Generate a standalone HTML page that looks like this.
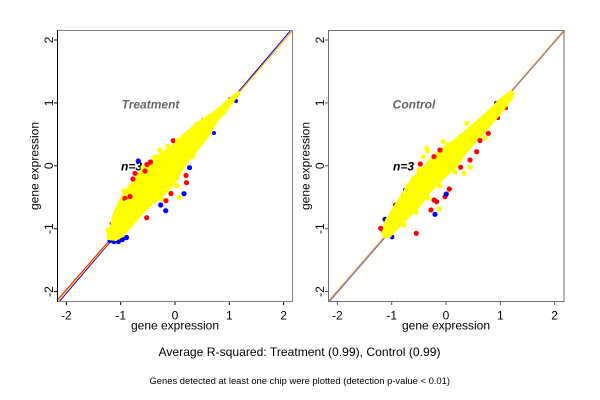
<!DOCTYPE html>
<html><head><meta charset="utf-8"><style>
html,body{margin:0;padding:0;background:#fff;}
svg{display:block;}
text{font-family:"Liberation Sans",Arial,sans-serif;}
</style></head><body>
<svg width="600" height="400" viewBox="0 0 600 400" xmlns="http://www.w3.org/2000/svg">
<defs>
<clipPath id="cl"><rect x="57.5" y="30.5" width="235" height="271"/></clipPath>
<clipPath id="cr"><rect x="328.5" y="30.5" width="235.5" height="271"/></clipPath>
<clipPath id="cb"><rect x="0" y="0" width="600" height="332"/></clipPath>
</defs>
<rect width="600" height="400" fill="#fff"/>

<!-- ============ LEFT PANEL ============ -->
<g clip-path="url(#cl)">
  <text x="150.5" y="108.3" font-size="12" font-weight="bold" font-style="italic" fill="#666" text-anchor="middle">Treatment</text>
  <text x="131.5" y="170.3" font-size="12" font-weight="bold" font-style="italic" fill="#000" text-anchor="middle">n=3</text>
  <line x1="58.5" y1="302.5" x2="291.5" y2="29.5" stroke="#0000ff" stroke-width="1"/>
  <line x1="56.5" y1="301" x2="292.5" y2="31" stroke="#ff0000" stroke-width="1"/>
  <line x1="57.5" y1="301.5" x2="293" y2="30.5" stroke="#ffd000" stroke-width="1"/>
  <!-- edge fringe -->
  <g fill="#0000ff">
    <circle cx="110" cy="240.5" r="2.6"/><circle cx="114" cy="241.5" r="2.6"/><circle cx="118.5" cy="241.5" r="2.6"/>
    <circle cx="122.5" cy="239.5" r="2.6"/><circle cx="126.5" cy="237.5" r="2.6"/><circle cx="214" cy="133" r="2"/>
    <circle cx="236" cy="101" r="2"/>
  </g>
  <g fill="#ff0000">
    <circle cx="117.5" cy="215" r="2.6"/><circle cx="112" cy="224" r="2.4"/><circle cx="151" cy="163" r="2.4"/>
    <circle cx="230" cy="99" r="2"/><circle cx="203" cy="120" r="2"/>
  </g>
  <path fill="#ffff00" d="M238,91 L229,98 L214,111 L200,120 L190,128 L181,136 L172,145 L160,153 L147,163 L138,173 L128,186 L119,200 L113,213 L110,226 L106,236 L108,240 L116,241 L123,237 L132,227 L143,214 L156,202 L167,193 L178,180 L183,170 L190,160 L201,147 L211,134 L218,121 L226,113 L232,104 L239,96 L241,92 Z"/>
  <g fill="#ffff00">
    <circle cx="210" cy="116.5" r="2.6"/><circle cx="196" cy="125" r="2.6"/><circle cx="178" cy="141" r="2.6"/>
    <circle cx="168" cy="146" r="2.6"/><circle cx="160" cy="150" r="2.6"/><circle cx="143" cy="168" r="2.6"/>
    <circle cx="137" cy="176" r="2.6"/><circle cx="127" cy="201" r="2.6"/><circle cx="124" cy="191" r="2.6"/>
    <circle cx="193" cy="156" r="2.6"/><circle cx="177" cy="186" r="2.6"/><circle cx="162" cy="199" r="2.6"/>
    <circle cx="108" cy="230" r="2.6"/><circle cx="155" cy="157" r="2.6"/>
  </g>
  <g fill="#ff0000">
    <circle cx="173.3" cy="140.7" r="2.6"/><circle cx="150.5" cy="162" r="2.6"/><circle cx="147" cy="164.5" r="2.6"/>
    <circle cx="145" cy="171" r="2.6"/><circle cx="135" cy="173.3" r="2.6"/><circle cx="133" cy="179" r="2.6"/>
    <circle cx="186" cy="175.5" r="2.6"/><circle cx="186.5" cy="182.7" r="2.6"/><circle cx="171" cy="193.5" r="2.6"/>
    <circle cx="166" cy="200.7" r="2.6"/><circle cx="146.7" cy="217.7" r="2.6"/><circle cx="125" cy="198.5" r="2.6"/>
    <circle cx="130" cy="196.5" r="2.6"/>
  </g>
  <g fill="#0000ff">
    <circle cx="138.3" cy="161" r="2.6"/><circle cx="189.5" cy="167.7" r="2.6"/><circle cx="184" cy="193.7" r="2.6"/>
    <circle cx="160.7" cy="205" r="2.6"/><circle cx="165.7" cy="210.7" r="2.6"/>
  </g>
  <g fill="#ffff00">
    <circle cx="177.5" cy="140.7" r="2.6"/><circle cx="179.3" cy="197.3" r="2.6"/><circle cx="127" cy="202" r="2.6"/>
  </g>
</g>
<rect x="57.5" y="30.5" width="235" height="271" fill="none" stroke="#808080" stroke-width="1"/>
<line x1="57.5" y1="30" x2="57.5" y2="302" stroke="#000" stroke-width="1"/>
<!-- left ticks -->
<g stroke="#000" stroke-width="1">
  <line x1="66.4" y1="302" x2="66.4" y2="305"/><line x1="120.7" y1="302" x2="120.7" y2="305"/>
  <line x1="175" y1="302" x2="175" y2="305"/><line x1="229.3" y1="302" x2="229.3" y2="305"/>
  <line x1="283.6" y1="302" x2="283.6" y2="305"/>
  <line x1="54" y1="40" x2="57" y2="40"/><line x1="54" y1="102.9" x2="57" y2="102.9"/>
  <line x1="54" y1="165.8" x2="57" y2="165.8"/><line x1="54" y1="228.7" x2="57" y2="228.7"/>
  <line x1="54" y1="291.6" x2="57" y2="291.6"/>
</g>
<g font-size="12" fill="#000" text-anchor="middle">
  <text x="66.4" y="319.3">-2</text><text x="120.7" y="319.3">-1</text><text x="175" y="319.3">0</text>
  <text x="229.3" y="319.3">1</text><text x="283.6" y="319.3">2</text>
  <text transform="translate(52.8,40) rotate(-90)">2</text>
  <text transform="translate(52.8,102.9) rotate(-90)">1</text>
  <text transform="translate(52.8,165.8) rotate(-90)">0</text>
  <text transform="translate(52.8,228.7) rotate(-90)">-1</text>
  <text transform="translate(52.8,291.6) rotate(-90)">-2</text>
  <text transform="translate(38.5,166) rotate(-90)">gene expression</text>
  <text x="175" y="329.5" clip-path="url(#cb)">gene expression</text>
</g>

<!-- ============ RIGHT PANEL ============ -->
<g clip-path="url(#cr)">
  <text x="414" y="108.3" font-size="12" font-weight="bold" font-style="italic" fill="#666" text-anchor="middle">Control</text>
  <text x="403.5" y="170.3" font-size="12" font-weight="bold" font-style="italic" fill="#000" text-anchor="middle">n=3</text>
  <line x1="328.5" y1="302.5" x2="564.5" y2="30.5" stroke="#5050ff" stroke-width="1"/>
  <line x1="328" y1="301.5" x2="564.5" y2="29.5" stroke="#ffa500" stroke-width="1"/>
  <g fill="#0000ff">
    <circle cx="385" cy="219.3" r="2.6"/><circle cx="383.3" cy="231.7" r="2.6"/><circle cx="392" cy="237" r="2.4"/>
    <circle cx="509" cy="95" r="2.2"/><circle cx="496" cy="103" r="2"/><circle cx="405" cy="190" r="2"/>
  </g>
  <g fill="#ff0000">
    <circle cx="403.3" cy="195" r="2.4"/><circle cx="395" cy="205" r="2.2"/><circle cx="498" cy="118" r="2.2"/>
    <circle cx="506" cy="108" r="2"/>
  </g>
  <path fill="#ffff00" d="M511,90 L498,100 L485,113 L470,126 L453,140 L435,153 L423,166 L410,180 L402,193 L393,207 L385,220 L381,233 L383,238 L390,238 L397,230 L407,220 L420,207 L430,193 L443,180 L457,167 L467,153 L478,140 L490,127 L502,113 L512,100 L515,93 Z"/>
  <g fill="#ffff00">
    <circle cx="477" cy="130" r="2.6"/><circle cx="460" cy="137" r="2.6"/><circle cx="448" cy="145" r="2.6"/>
    <circle cx="433" cy="160" r="2.6"/><circle cx="419" cy="170" r="2.6"/><circle cx="408" cy="186" r="2.6"/>
    <circle cx="455" cy="172" r="2.6"/><circle cx="440" cy="186" r="2.6"/><circle cx="428" cy="198" r="2.6"/>
    <circle cx="416" cy="212" r="2.6"/><circle cx="404" cy="225" r="2.6"/><circle cx="485" cy="138" r="2.6"/>
    <circle cx="426.7" cy="148.3" r="2.6"/><circle cx="423.3" cy="156.7" r="2.6"/>
  </g>
  <g fill="#ff0000">
    <circle cx="488.3" cy="133.3" r="2.6"/><circle cx="480" cy="140.5" r="2.6"/><circle cx="476.7" cy="151.7" r="2.6"/>
    <circle cx="440" cy="150" r="2.6"/><circle cx="434" cy="156.7" r="2.6"/><circle cx="420.3" cy="164" r="2.6"/>
    <circle cx="470" cy="160" r="2.6"/><circle cx="460.7" cy="167.3" r="2.6"/><circle cx="449.3" cy="189" r="2.6"/>
    <circle cx="445" cy="196.7" r="2.6"/><circle cx="434" cy="200" r="2.6"/><circle cx="436.7" cy="201.7" r="2.6"/>
    <circle cx="431" cy="210" r="2.6"/><circle cx="416.3" cy="233.3" r="2.6"/><circle cx="380.7" cy="228.3" r="2.6"/>
  </g>
  <g fill="#0000ff">
    <circle cx="446.3" cy="194" r="2.6"/><circle cx="435" cy="214.3" r="2.6"/>
  </g>
  <g fill="#ffff00">
    <circle cx="466.7" cy="123.3" r="2.6"/><circle cx="443.3" cy="141.7" r="2.6"/><circle cx="427.7" cy="150.7" r="2.6"/>
    <circle cx="413.3" cy="178.3" r="2.6"/><circle cx="470" cy="167.3" r="2.6"/><circle cx="464.3" cy="173.3" r="2.6"/>
    <circle cx="439.3" cy="209" r="2.6"/>
  </g>
</g>
<rect x="328.5" y="30.5" width="235.5" height="271" fill="none" stroke="#6e6e6e" stroke-width="1"/>
<g stroke="#555" stroke-width="1">
  <line x1="337.4" y1="302" x2="337.4" y2="305"/><line x1="391.7" y1="302" x2="391.7" y2="305"/>
  <line x1="446" y1="302" x2="446" y2="305"/><line x1="500.3" y1="302" x2="500.3" y2="305"/>
  <line x1="554.6" y1="302" x2="554.6" y2="305"/>
  <line x1="325" y1="40" x2="328" y2="40"/><line x1="325" y1="102.9" x2="328" y2="102.9"/>
  <line x1="325" y1="165.8" x2="328" y2="165.8"/><line x1="325" y1="228.7" x2="328" y2="228.7"/>
  <line x1="325" y1="291.6" x2="328" y2="291.6"/>
</g>
<g font-size="12" fill="#000" text-anchor="middle">
  <text x="337.4" y="319.3">-2</text><text x="391.7" y="319.3">-1</text><text x="446" y="319.3">0</text>
  <text x="500.3" y="319.3">1</text><text x="554.6" y="319.3">2</text>
  <text transform="translate(323.8,40) rotate(-90)">2</text>
  <text transform="translate(323.8,102.9) rotate(-90)">1</text>
  <text transform="translate(323.8,165.8) rotate(-90)">0</text>
  <text transform="translate(323.8,228.7) rotate(-90)">-1</text>
  <text transform="translate(323.8,291.6) rotate(-90)">-2</text>
  <text transform="translate(309.5,166) rotate(-90)">gene expression</text>
  <text x="446" y="329.5" clip-path="url(#cb)">gene expression</text>
</g>

<!-- ============ BOTTOM TEXT ============ -->
<text x="158.5" y="356" font-size="12" fill="#000" textLength="282" lengthAdjust="spacingAndGlyphs">Average R-squared: Treatment (0.99), Control (0.99)</text>
<text x="149.5" y="384" font-size="9" fill="#000" textLength="300.5" lengthAdjust="spacingAndGlyphs">Genes detected at least one chip were plotted (detection p-value &lt; 0.01)</text>
</svg>
</body></html>
